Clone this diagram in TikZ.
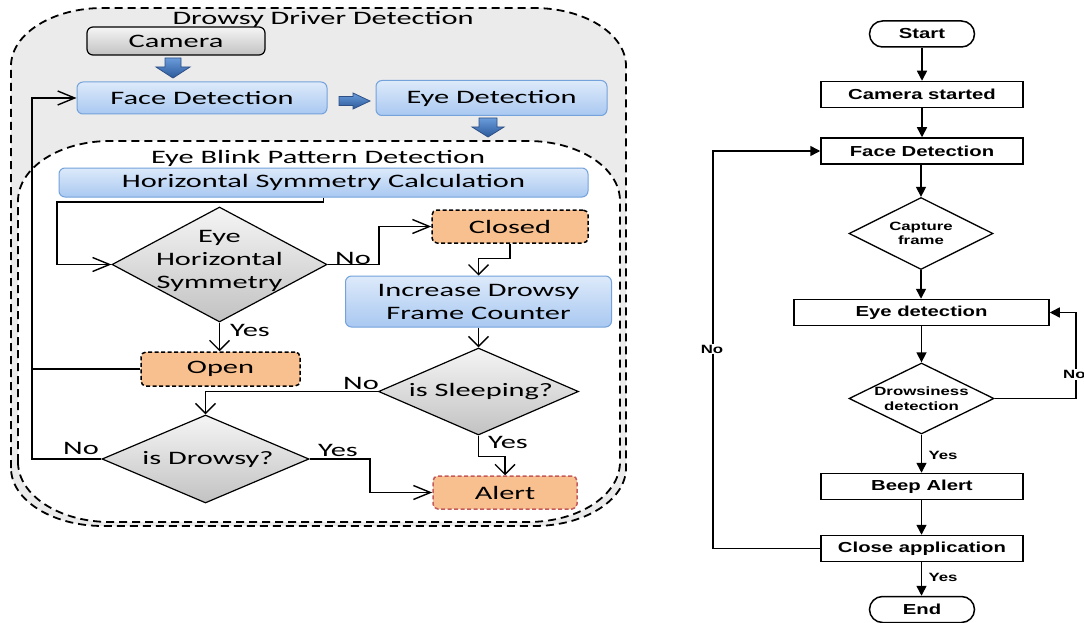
\documentclass[tikz,border=0pt]{standalone}
\usepackage{fontspec}
\usetikzlibrary{arrows.meta,shapes.geometric,calc}
\newfontfamily\diagLfont[FakeStretch=1.6]{Carlito}
\newfontfamily\diagRfont[FakeStretch=1.4]{Liberation Sans}
\newcommand\diagL{\diagLfont\fontsize{19}{23}\selectfont}
\newcommand\diagR{\diagRfont\bfseries\fontsize{14.5}{17}\selectfont}
\newcommand\diagRs{\diagRfont\bfseries\fontsize{12}{14.5}\selectfont}
\definecolor{panel}{HTML}{EBEBEB}
\definecolor{bluetop}{HTML}{DDEAFA}
\definecolor{bluebot}{HTML}{A9C8F1}
\definecolor{blueline}{HTML}{74A2DB}
\definecolor{graytop}{HTML}{F5F5F5}
\definecolor{graybot}{HTML}{C2C2C2}
\definecolor{peach}{HTML}{F9C08F}
\definecolor{alertred}{HTML}{C55A5A}
\definecolor{arrtop}{HTML}{6A9BDA}
\definecolor{arrbot}{HTML}{2B5A9C}
\definecolor{arrline}{HTML}{2E4F86}
\begin{document}
\begin{tikzpicture}[x=1pt,y=-1pt,
  ltext/.style={font=\diagL, inner sep=0, align=center},
  bluebox/.style={rectangle, draw=blueline, line width=1pt, rounded corners=6,
    top color=bluetop, bottom color=bluebot, ltext},
  graybox/.style={rectangle, draw=black, line width=1.2pt, rounded corners=6,
    top color=graytop, bottom color=graybot, ltext},
  peachbox/.style={rectangle, draw=black, line width=1.5pt, dash pattern=on 4pt off 2.5pt,
    rounded corners=5, fill=peach, ltext},
  ldiam/.style={diamond, draw=black, line width=1.2pt, inner sep=0,
    top color=graytop, bottom color=graybot},
  conn/.style={line width=1.4pt, draw=black},
  harr/.style={-{Straight Barb[length=17pt,width=14pt]}},
  varr/.style={-{Straight Barb[length=10pt,width=20pt]}},
  blockarrow/.style={draw=arrline, line width=0.8pt, top color=arrtop, bottom color=arrbot},
  panelline/.style={draw=black, line width=1.8pt, dash pattern=on 8pt off 5pt},
  rbox/.style={rectangle, draw=black, line width=1.5pt, fill=white, inner sep=0,
    minimum height=26, font=\diagR},
  rterm/.style={rbox, rounded corners=13, minimum width=105},
  rdiam/.style={diamond, draw=black, line width=1.3pt, fill=white, inner sep=0},
  rconn/.style={line width=1.5pt, draw=black, -{Triangle[length=10pt,width=10pt]}},
  rlabel/.style={font=\diagRs, inner sep=1pt}
]
\useasboundingbox (0,0) rectangle (1084,623);
\fill[white] (0,0) rectangle (1084,623);

% ---------------- left: drowsy driver detection ----------------
% outer panel
\path[panelline, fill=panel]
  (11,468) -- (11,66) .. controls (11,34) and (52.2,8) .. (103,8)
  -- (534,8) .. controls (584.8,8) and (626,34) .. (626,66)
  -- (626,468) .. controls (626,500) and (584.8,526) .. (534,526)
  -- (103,526) .. controls (52.2,526) and (11,500) .. (11,468) -- cycle;
% inner panel
\path[panelline, fill=white]
  (18,462) -- (18,201) .. controls (18,167.9) and (59.2,141) .. (110,141)
  -- (528,141) .. controls (578.8,141) and (620,167.9) .. (620,201)
  -- (620,462) .. controls (620,495.1) and (578.8,522) .. (528,522)
  -- (110,522) .. controls (59.2,522) and (18,495.1) .. (18,462) -- cycle;

\node[ltext] (title-outer) at (323,19) {Drowsy Driver Detection};
\node[ltext] (title-inner) at (318,158) {Eye Blink Pattern Detection};

\node[graybox, minimum width=178, minimum height=28] (cam) at (176,41) {Camera};
\node[bluebox, minimum width=250, minimum height=32] (face) at (202,98) {Face Detection};
\node[bluebox, minimum width=231, minimum height=35] (eye) at (491.5,98) {Eye Detection};
\node[bluebox, minimum width=529, minimum height=29] (hsc) at (323.5,182.5) {Horizontal Symmetry Calculation};

\node[ldiam, minimum width=215, minimum height=115] (ehs) at (219.5,264.5) {};
\node[ltext] (ehs-t) at (219.5,261) {Eye\\Horizontal\\Symmetry};
\node[peachbox, minimum width=156, minimum height=33] (closed) at (510,226.5) {Closed};
\node[bluebox, minimum width=266, minimum height=51] (inc) at (478.5,301.5) {Increase Drowsy\\Frame Counter};
\node[peachbox, minimum width=159, minimum height=34] (open) at (220.5,369) {Open};
\node[ldiam, minimum width=200, minimum height=87] (sleep) at (478.5,391.5) {};
\node[ltext] (sleep-t) at (481,392) {is Sleeping?};
\node[ldiam, minimum width=207, minimum height=88] (drowsy) at (205.5,459) {};
\node[ltext] (drowsy-t) at (208,459) {is Drowsy?};
\node[peachbox, draw=alertred, minimum width=144, minimum height=33] (alert) at (505,492.5) {Alert};

% block arrows between the top stages
\path[blockarrow] (165,58) -- (181,58) -- (181,67) -- (190,67) -- (173,78) -- (156,67) -- (165,67) -- cycle;
\path[blockarrow] (339,96.5) -- (353,96.5) -- (353,93) -- (370,101) -- (353,109) -- (353,105.5) -- (339,105.5) -- cycle;
\path[blockarrow] (479,118) -- (497,118) -- (497,127) -- (504,127) -- (488,137) -- (472,127) -- (479,127) -- cycle;

% connectors
\coordinate (loop-x) at (32,369);
\draw[conn, harr] (hsc.south) |- (57,202) |- (ehs.west);
\draw[conn, harr] (ehs.east) -- (379,264.5) |- (closed.west);
\draw[conn, varr] (ehs.south) -- (ehs.south |- open.north);
\draw[conn, varr] (closed.south) -- ++(0,15) -| (inc.north);
\draw[conn, varr] (inc.south) -- (sleep.north);
\draw[conn, varr] (sleep.west) -| (drowsy.north);
\draw[conn, varr] (sleep.south) -- ++(0,21) -| (alert.north);
\draw[conn, harr] (drowsy.east) -- (370,459) |- (alert.west);
\draw[conn, harr] (drowsy.west) -- (32,459) |- (face.west);
\draw[conn] (open.west) -- (loop-x);

\node[ltext] (no-ehs) at (353,258) {No};
\node[ltext] (yes-ehs) at (250,330) {Yes};
\node[ltext] (no-sleep) at (361,383) {No};
\node[ltext] (yes-sleep) at (508,442) {Yes};
\node[ltext] (yes-drowsy) at (338,450) {Yes};
\node[ltext] (no-drowsy) at (81,448) {No};

% ---------------- right: application flowchart ----------------
\node[rterm] (start) at (922,34) {Start};
\node[rbox, minimum width=202] (cam2) at (922,94.5) {Camera started};
\node[rbox, minimum width=202] (face2) at (922,151) {Face Detection};
\node[rdiam, minimum width=144, minimum height=72] (cap) at (921,233.5) {};
\node[font=\diagRs, align=center, inner sep=0] (cap-t) at (921,233.5) {Capture\\frame};
\node[rbox, minimum width=255] (eye2) at (921.5,312.5) {Eye detection};
\node[rdiam, minimum width=145, minimum height=71] (drow) at (921.5,398.5) {};
\node[font=\diagRs, align=center, inner sep=0] (drow-t) at (921.5,398.5) {Drowsiness\\detection};
\node[rbox, minimum width=202] (beep) at (922,486.5) {Beep Alert};
\node[rbox, minimum width=202] (close) at (922,548.5) {Close application};
\node[rterm] (end) at (922,609.5) {End};

\draw[rconn] (start) -- (cam2);
\draw[rconn] (cam2) -- (face2);
\draw[rconn] (face2.south -| cap.north) -- (cap.north);
\draw[rconn] (cap.south) -- (cap.south |- eye2.north);
\draw[rconn] (eye2.south -| drow.north) -- (drow.north);
\draw[rconn] (drow.east) -- (1076,398.5) |- (eye2.east);
\draw[rconn] (drow.south) -- (drow.south |- beep.north);
\draw[rconn] (beep.south -| drow.south) -- (close.north -| drow.south);
\draw[rconn] (close.south -| drow.south) -- (end.north -| drow.south);
\draw[rconn] (close.west) -- (713,548.5) |- (face2.west);

\node[rlabel, fill=white, anchor=west] (no-right) at (1062,374.5) {No};
\node[rlabel, fill=white] (no-left) at (712,349) {No};
\node[rlabel] (yes-beep) at (943,455) {Yes};
\node[rlabel] (yes-end) at (943,577) {Yes};
\end{tikzpicture}
\end{document}
